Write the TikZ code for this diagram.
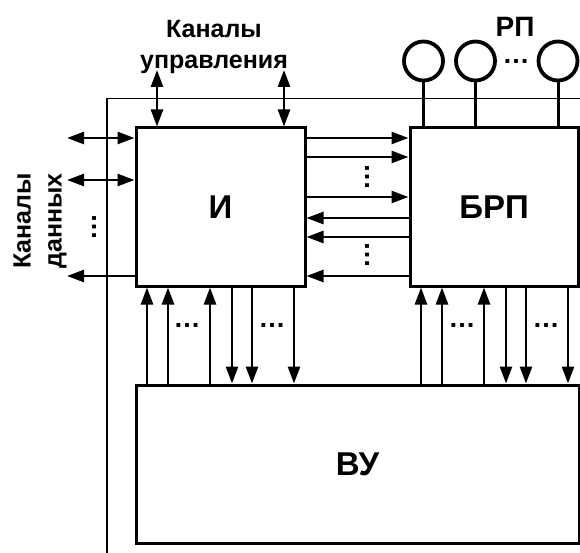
\documentclass[tikz,border=0pt]{standalone}
\usepackage{fontspec}
\setmainfont{Liberation Sans}
\usetikzlibrary{arrows.meta}

\tikzset{
  blk/.style={draw, line width=3pt, inner sep=0pt, font=\bfseries\fontsize{33}{36}\selectfont},
  rp/.style={draw, circle, line width=3.8pt, minimum size=39pt, inner sep=0pt},
  sig/.style={line width=2.6pt, -{Triangle[length=17pt,width=12pt]}},
  bisig/.style={line width=2.6pt, {Triangle[length=17pt,width=12pt]}-{Triangle[length=17pt,width=12pt]}},
  lbl/.style={font=\bfseries\fontsize{25}{31}\selectfont, align=center, inner sep=0pt},
  dots/.style={inner sep=0pt, font=\bfseries\fontsize{27}{27}\selectfont},
}

\begin{document}
\begin{tikzpicture}[x=1pt, y=-1pt]
    \useasboundingbox (0,0) rectangle (580,553);

    % Outer frame
    \draw[line width=1.1pt] (580,98.5) -- (107,98.5) -- (107,553);

    % Blocks
    \node[blk, minimum width=169pt, minimum height=158pt] (I) at (220.5,207) {И};
    \node[blk, minimum width=168pt, minimum height=158pt] (BRP) at (494,207) {БРП};
    \node[blk, minimum width=443pt, minimum height=158pt] (VU) at (357.5,464) {ВУ};

    % RP
    \node[rp] (rp1) at (423.5,61) {};
    \node[rp] (rp2) at (475.5,61) {};
    \node[rp] (rp3) at (558,61) {};
    \node[lbl, font=\bfseries\fontsize{28}{31}\selectfont] (rplbl) at (515,27) {РП};
    \node[dots] (rpdots) at (516,61) {\ldots};
    \foreach \n in {rp1,rp2,rp3}
        \draw[line width=3pt] (\n) -- (\n |- BRP.north);

    % Control channels
    \node[lbl] (ku) at (214,47) {Каналы\\управления};
    \coordinate (ku1) at (157,70);
    \coordinate (ku2) at (284,70);
    \draw[bisig] (ku1) -- (ku1 |- I.north);
    \draw[bisig] (ku2) -- (ku2 |- I.north);

    % Data channels
    \node[lbl, rotate=90] (dk) at (40,221) {Каналы\\данных};
    \coordinate (dk1) at (67,138);
    \coordinate (dk2) at (67,180);
    \coordinate (dk3) at (67,276);
    \draw[bisig] (dk1) -- (dk1 -| I.west);
    \draw[bisig] (dk2) -- (dk2 -| I.west);
    \draw[sig] (dk3 -| I.west) -- (dk3);
    \node[dots, rotate=90] (dkdots) at (94,227) {\ldots};

    % I <-> BRP
    \foreach \y in {138,157,197}
        \draw[sig] (I.east |- 0,\y) -- (BRP.west |- 0,\y);
    \foreach \y in {218,237,276}
        \draw[sig] (BRP.west |- 0,\y) -- (I.east |- 0,\y);
    \node[dots, rotate=90] (d1) at (367,177) {\ldots};
    \node[dots, rotate=90] (d2) at (367,255) {\ldots};

    % VU <-> I, BRP
    \foreach \x in {147,168,210,421,442,484}
        \draw[sig] (VU.north -| \x,0) -- (I.south -| \x,0);
    \foreach \x in {232,252,294,506,526,568}
        \draw[sig] (I.south -| \x,0) -- (VU.north -| \x,0);
    \foreach \x in {187,272,462,546}
        \node[dots] at (\x,325) {\ldots};

\end{tikzpicture}
\end{document}
